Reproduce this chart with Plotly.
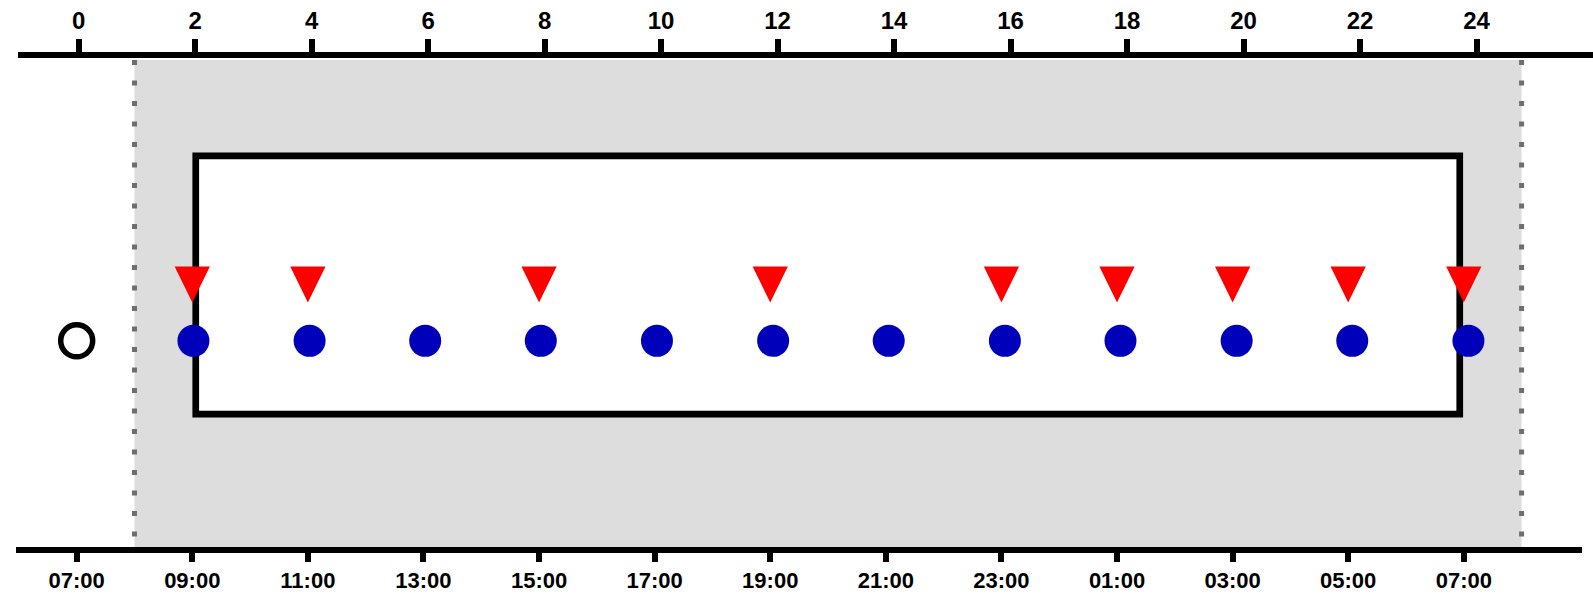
import plotly.graph_objects as go

# ---- data ----
hours = [0, 2, 4, 6, 8, 10, 12, 14, 16, 18, 20, 22, 24]
top_labels = ["0", "2", "4", "6", "8", "10", "12", "14", "16", "18", "20", "22", "24"]
clock_labels = ["07:00", "09:00", "11:00", "13:00", "15:00", "17:00", "19:00",
                "21:00", "23:00", "01:00", "03:00", "05:00", "07:00"]

sample_x = [2.02, 4.03, 6.03, 8.03, 10.04, 12.05, 14.05, 16.06, 18.06, 20.07, 22.07, 24.08]
sample_y = [4.19] * 12

dose_x = [2, 4, 8, 12, 16, 18, 20, 22, 24]
dose_y = [5.70] * 9

baseline_x = [0]
baseline_y = [4.19]

dark_start, dark_end, dark_top = 1, 25, 9.90
box_x0, box_x1 = 2.06, 23.93
box_y0, box_y1 = 2.70, 7.95

# ---- styling ----
W, H = 1593, 596
tri_half_w = 0.305
tri_h = 0.73
top_font = dict(family="Liberation Sans, Arial, sans-serif", size=24, color="black", weight="bold")
bottom_font = dict(family="Liberation Sans, Arial, sans-serif", size=22, color="black", weight="bold")

tx, ty = [], []
for x, y in zip(dose_x, dose_y):
    tx += [x - tri_half_w, x + tri_half_w, x, x - tri_half_w, None]
    ty += [y, y, y - tri_h, y, None]

fig = go.Figure()
fig.add_trace(go.Scatter(x=tx, y=ty, mode="lines", fill="toself", fillcolor="#ff0000",
                         line=dict(width=0, color="#ff0000"), hoverinfo="skip"))
fig.add_trace(go.Scatter(x=sample_x, y=sample_y, mode="markers",
                         marker=dict(symbol="circle", size=32, color="#0000bb", line=dict(width=0))))
fig.add_trace(go.Scatter(x=baseline_x, y=baseline_y, mode="markers",
                         marker=dict(symbol="circle-open", size=32, color="black", line=dict(width=5.5, color="black"))))
fig.add_trace(go.Scatter(x=hours, y=[None] * len(hours), xaxis="x2", mode="markers", hoverinfo="skip"))

shapes = [
    dict(type="rect", xref="x", yref="y", x0=dark_start, x1=dark_end, y0=0, y1=dark_top,
         fillcolor="#dddddd", line=dict(width=0), layer="below"),
    dict(type="line", xref="x", yref="y", x0=dark_start, x1=dark_start, y0=dark_top, y1=0.2,
         line=dict(color="#6e6e6e", width=5, dash="5px,15.5px"), layer="below"),
    dict(type="line", xref="x", yref="y", x0=dark_end, x1=dark_end, y0=dark_top, y1=0.2,
         line=dict(color="#6e6e6e", width=5, dash="5px,15.5px"), layer="below"),
    dict(type="rect", xref="x", yref="y", x0=box_x0, x1=box_x1, y0=box_y0, y1=box_y1,
         fillcolor="white", line=dict(width=6.7, color="black"), layer="below"),
]

axis_common = dict(showline=True, linewidth=6, linecolor="black", ticks="outside",
                   tickwidth=6, tickcolor="black", showgrid=False, zeroline=False,
                   tickmode="array", tickvals=hours, fixedrange=True,
                   automargin=False)

fig.update_layout(
    width=W, height=H, autosize=False, showlegend=False,
    margin=dict(l=0, r=0, t=55, b=49, pad=0),
    paper_bgcolor="white", plot_bgcolor="rgba(0,0,0,0)",
    shapes=shapes,
    xaxis=dict(domain=[16 / W, 1581.7 / W], range=[-1.05, 26.04], ticktext=clock_labels,
               ticklen=9, anchor="y", tickfont=bottom_font, **axis_common),
    xaxis2=dict(domain=[18 / W, 1.0], range=[-1.042, 26.0], ticktext=top_labels,
                ticklen=13, side="top", anchor="free", position=1.0, tickfont=top_font,
                **axis_common),
    yaxis=dict(visible=False, range=[0, 10], fixedrange=True),
)

fig.write_html("out.html")
